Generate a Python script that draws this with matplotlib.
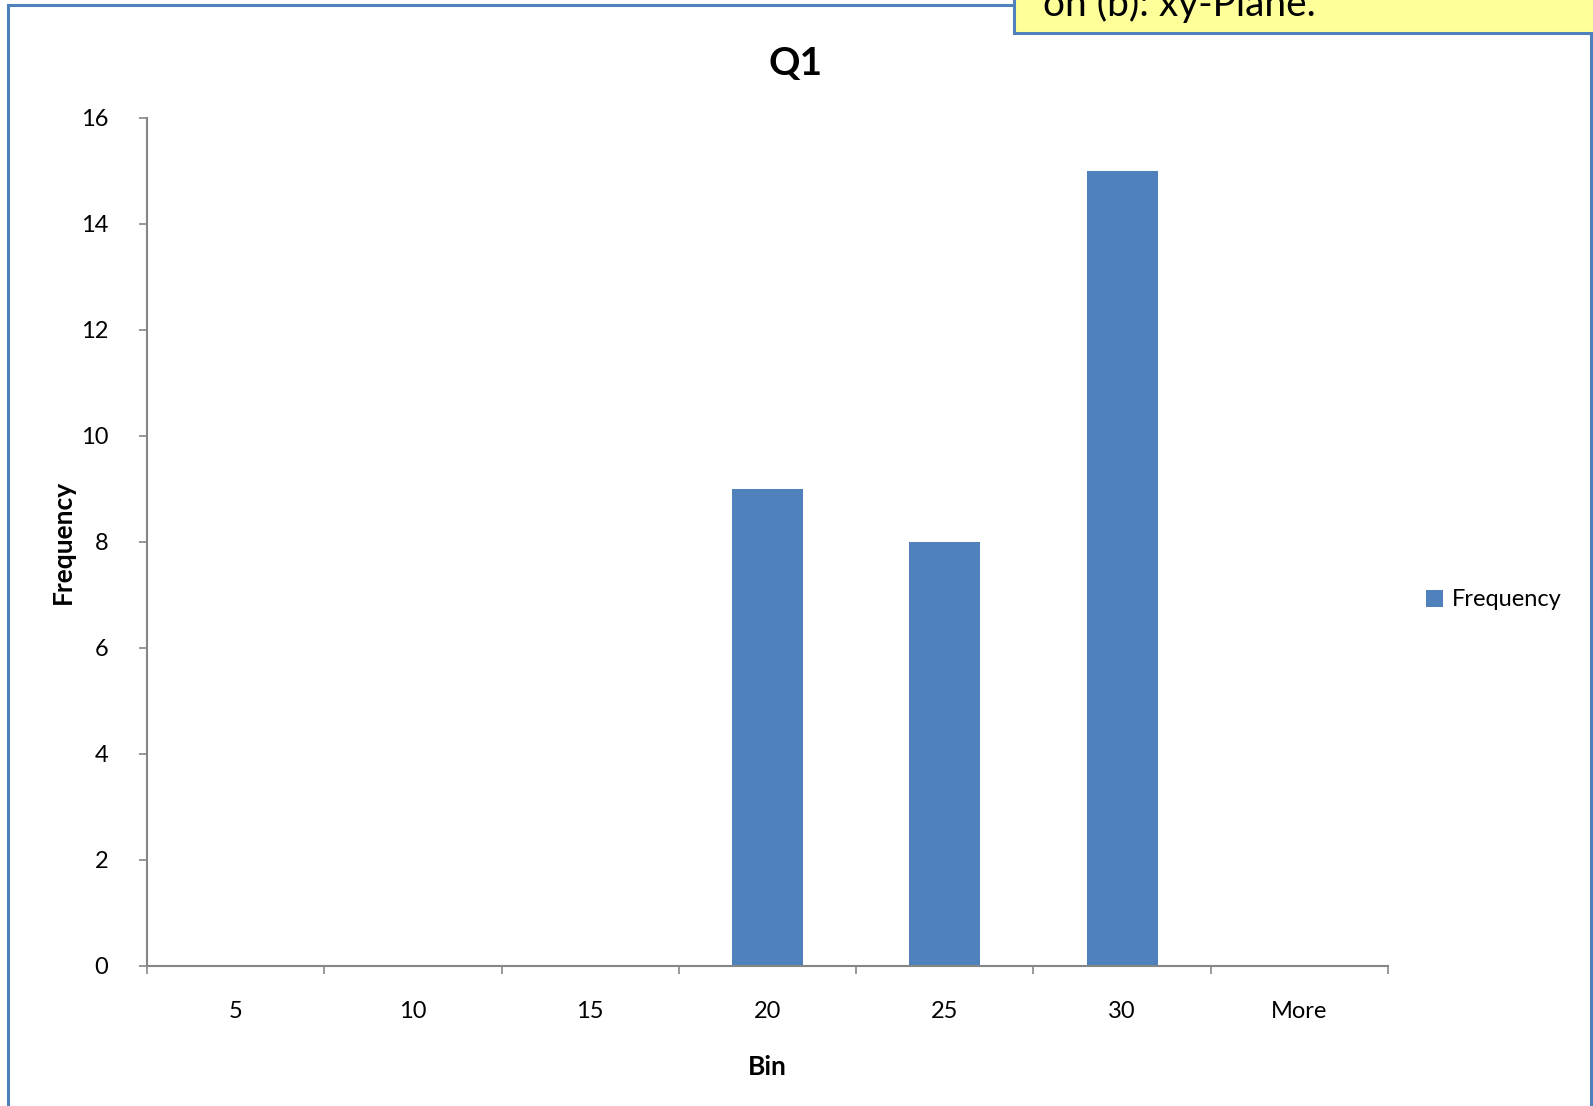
import matplotlib.pyplot as plt
import numpy as np
from matplotlib.patches import Rectangle

# histogram output (Excel style)
bins = ['5', '10', '15', '20', '25', '30', 'More']
frequency = [0, 0, 0, 9, 8, 15, 0]
y_ticks = [0, 2, 4, 6, 8, 10, 12, 14, 16]

W, H = 1593, 1106
blue = '#4F81BD'
axis_grey = '#868686'

plt.rcParams['font.family'] = ['Lato', 'DejaVu Sans']

fig = plt.figure(figsize=(W / 100, H / 100), dpi=100)

# outer chart border (bottom runs off the picture)
fig.patches.append(Rectangle((8 / W, -0.05), (1591 - 8) / W, 1.05 - 5 / H,
                             transform=fig.transFigure, fill=False,
                             edgecolor=blue, lw=2.2, zorder=0))

# yellow callout box, cut off at the top like in the slide
fig.patches.append(Rectangle((1014 / W, 1 - 33 / H), 0.5, 0.1,
                             transform=fig.transFigure, facecolor='#FFFF99',
                             edgecolor=blue, lw=2.2, zorder=5))
fig.text(1043 / W, 1 - 16 / H, 'on (b): xy-Plane.', fontsize=28,
         ha='left', va='baseline', zorder=6)

ax = fig.add_axes([147 / W, 1 - 966 / H, (1388 - 147) / W, (966 - 118) / H])
x = np.arange(len(bins))
ax.bar(x, frequency, width=0.4, color=blue, label='Frequency', zorder=2)

ax.set_xlim(-0.5, len(bins) - 0.5)
ax.set_ylim(0, 16)
ax.set_yticks(y_ticks)
ax.set_xticks(x)
ax.set_xticklabels(bins)
ax.set_xticks(np.arange(len(bins) + 1) - 0.5, minor=True)
ax.tick_params(axis='x', which='major', length=0, pad=25, labelsize=17)
ax.tick_params(axis='x', which='minor', length=6, width=1.2, color=axis_grey, direction='out')
ax.tick_params(axis='y', length=6, width=1.2, color=axis_grey, pad=22, labelsize=17)

for side in ['top', 'right']:
    ax.spines[side].set_visible(False)
for side in ['left', 'bottom']:
    ax.spines[side].set_color(axis_grey)
    ax.spines[side].set_linewidth(1.5)

fig.text(795 / W, 1 - 64 / H, 'Q1', fontsize=28, fontweight='bold',
         ha='center', va='center')
ax.set_xlabel('Bin', fontsize=19, fontweight='bold')
ax.xaxis.set_label_coords(0.5, (966 - 1055) / (966 - 118))
ax.set_ylabel('Frequency', fontsize=19, fontweight='bold')
ax.yaxis.set_label_coords((75 - 147) / (1388 - 147), 0.5)

ax.legend(loc='center left', bbox_to_anchor=(1426 / W, 1 - 600 / H),
          bbox_transform=fig.transFigure, frameon=False, fontsize=17,
          handlelength=0.7, handleheight=0.7, handletextpad=0.4,
          borderpad=0, borderaxespad=0)

fig.savefig('out.png', dpi=100)
